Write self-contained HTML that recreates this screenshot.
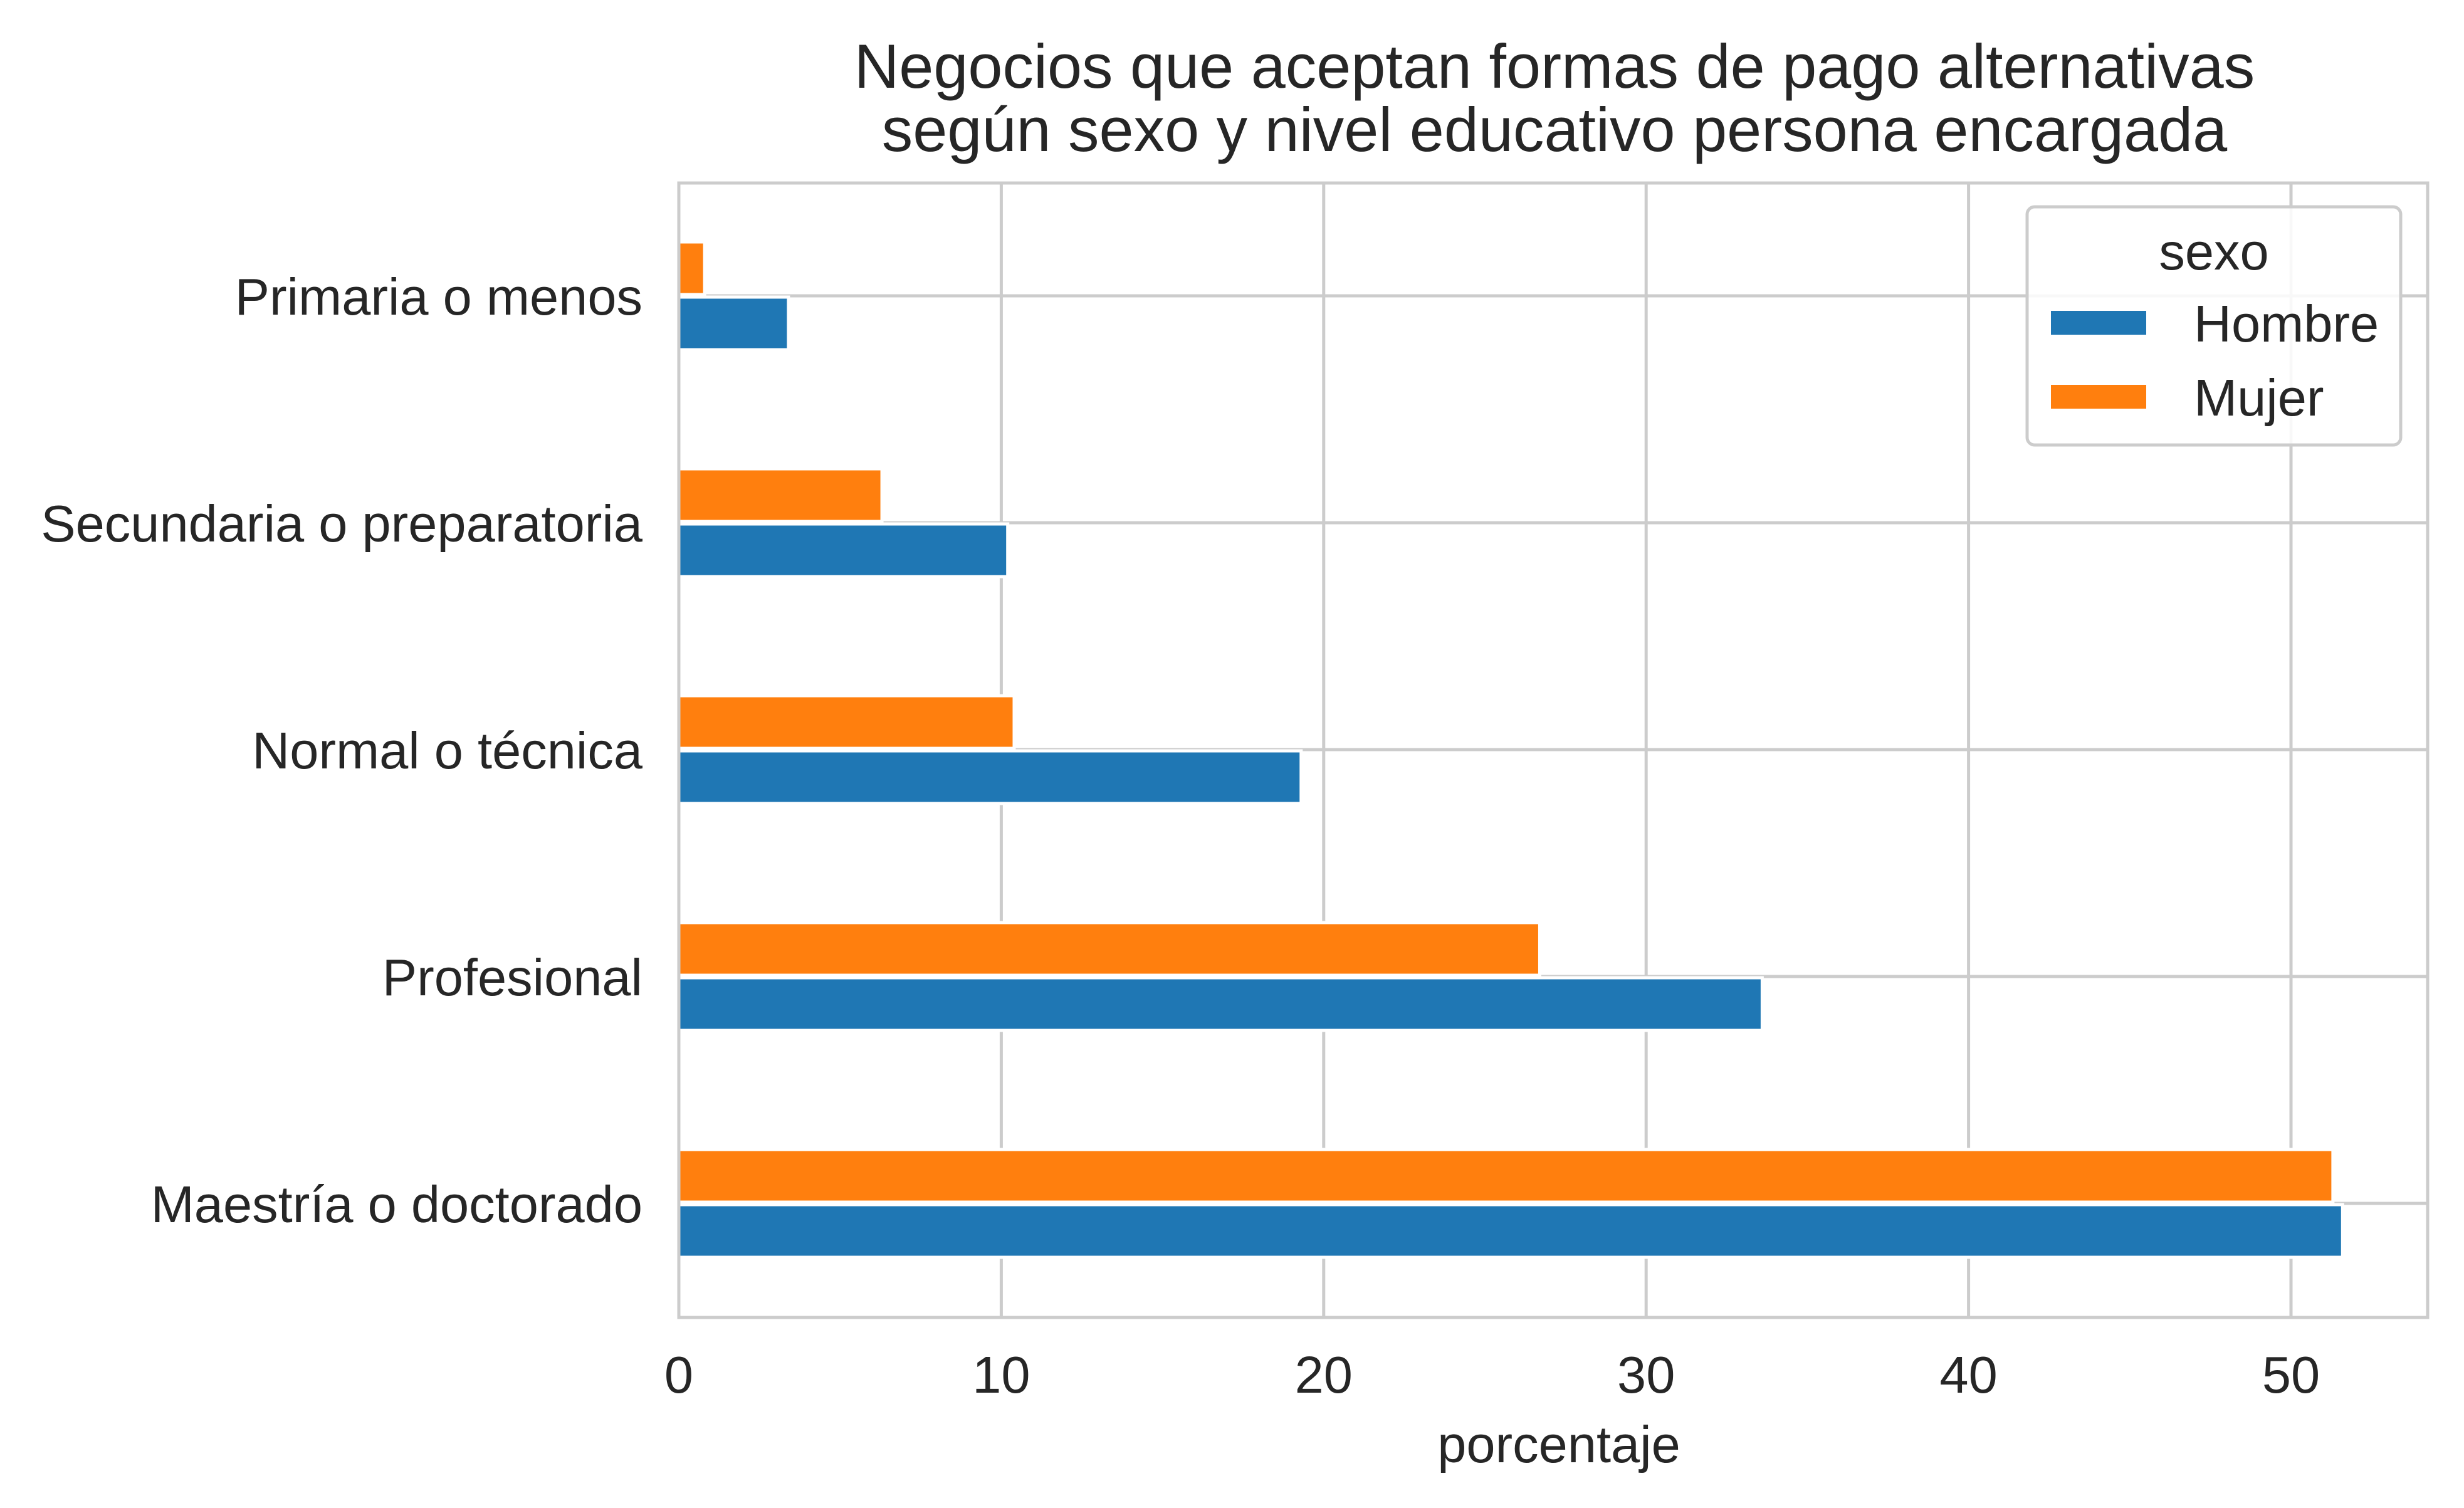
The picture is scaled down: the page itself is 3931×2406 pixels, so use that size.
<!DOCTYPE html>
<html><head><meta charset="utf-8"><style>
html,body{margin:0;padding:0;background:#fff;}
svg{display:block;font-family:"Liberation Sans","DejaVu Sans",sans-serif;}
</style></head><body>
<svg id="chart" width="3931" height="2406" viewBox="0 0 3931 2406" xmlns="http://www.w3.org/2000/svg">
<rect width="3931" height="2406" fill="#fff"/>
<text x="2480" y="140" text-anchor="middle" font-size="99" fill="#262626">Negocios que aceptan formas de pago alternativas</text>
<text x="2480" y="241" text-anchor="middle" font-size="99" fill="#262626">según sexo y nivel educativo persona encargada</text>
<g id="grid"></g>
<g id="bars"></g>
<g id="axes"></g>
<text x="2487" y="2333" text-anchor="middle" font-size="83" fill="#262626">porcentaje</text>
<g>
<rect x="3234" y="330" width="596" height="380" rx="12" fill="#fff" fill-opacity="0.85" stroke="#cccccc" stroke-width="5"/>
<text x="3532" y="430" text-anchor="middle" font-size="83" fill="#262626">sexo</text>
<rect x="3272" y="496" width="152" height="38" fill="#1f77b4"/>
<text x="3500" y="545" font-size="83" fill="#262626">Hombre</text>
<rect x="3272" y="614" width="152" height="38" fill="#ff7f0e"/>
<text x="3500" y="663" font-size="83" fill="#262626">Mujer</text>
</g>
</svg>
<script>
const categories = ["Primaria o menos","Secundaria o preparatoria","Normal o técnica","Profesional","Maestría o doctorado"];
const hombre = [3.4, 10.2, 19.3, 33.6, 51.6];
const mujer = [0.8, 6.3, 10.4, 26.7, 51.3];
const xTicks = [0, 10, 20, 30, 40, 50];

const NS = "http://www.w3.org/2000/svg";
const L = 1083, R = 3873, T = 292, B = 2102;
const PX = 51.44;
const x = v => L + v * PX;
const y0 = 472, step = 362;
const yc = i => y0 + i * step;
const barH = 84;
function mk(tag, attrs, parent) {
  const e = document.createElementNS(NS, tag);
  for (const k in attrs) e.setAttribute(k, attrs[k]);
  parent.appendChild(e);
  return e;
}
const grid = document.getElementById('grid');
const bars = document.getElementById('bars');
const axes = document.getElementById('axes');

xTicks.forEach(t => {
  const l = mk('line', {x1: x(t), x2: x(t), y1: T, y2: B, stroke: '#cccccc', 'stroke-width': 5}, grid);
  
  
  const tx = mk('text', {x: x(t), y: 2222, 'text-anchor': 'middle', 'font-size': 83, fill: '#262626'}, axes);
  tx.textContent = t;
  
  
});
categories.forEach((c, i) => {
  const l = mk('line', {x1: L, x2: R, y1: yc(i), y2: yc(i), stroke: '#cccccc', 'stroke-width': 5}, grid);
  
  
  const m = mk('rect', {x: x(0), y: yc(i) - barH - 2, width: x(mujer[i]) - x(0), height: barH, fill: '#ff7f0e', stroke: '#fff', 'stroke-width': 5}, bars);
  
  
  const h = mk('rect', {x: x(0), y: yc(i) + 2, width: x(hombre[i]) - x(0), height: barH, fill: '#1f77b4', stroke: '#fff', 'stroke-width': 5}, bars);
  
  
  const tx = mk('text', {x: 1025, y: yc(i) + 30, 'text-anchor': 'end', 'font-size': 83, fill: '#262626'}, axes);
  tx.textContent = c;
  
  
});
const frame = mk('rect', {x: L, y: T, width: R - L, height: B - T, fill: 'none', stroke: '#cccccc', 'stroke-width': 5}, axes);


</script>
</body></html>
